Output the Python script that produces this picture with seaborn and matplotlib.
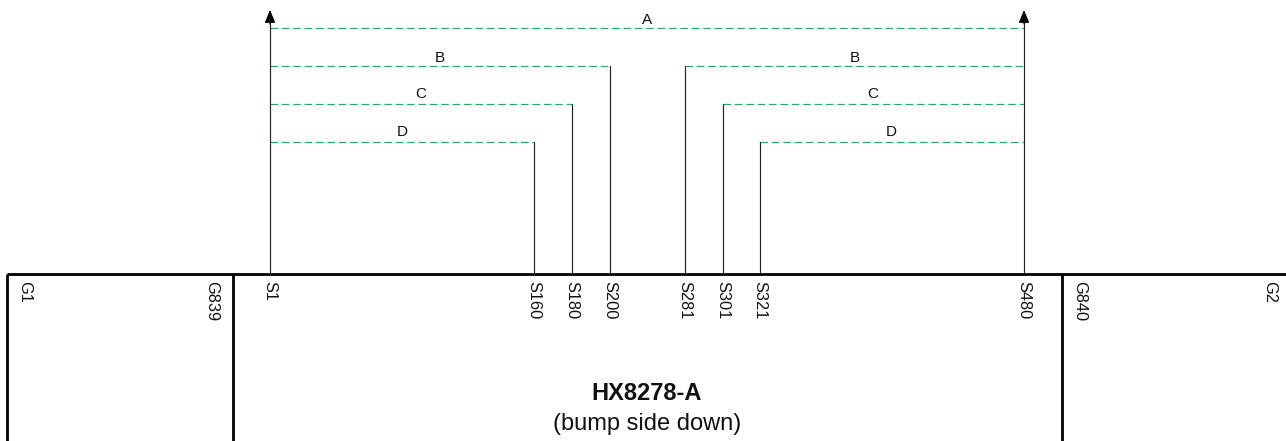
import matplotlib
matplotlib.use('Agg')
import matplotlib.pyplot as plt
import pandas as pd
import seaborn as sns

sns.set_theme(style='white')
plt.rcParams['font.family'] = ['Liberation Sans', 'DejaVu Sans']
plt.rcParams['lines.scale_dashes'] = False

# pin labels and where they sit along the chip edge (pixels of the drawing)
source_pins = ['S1', 'S160', 'S180', 'S200', 'S281', 'S301', 'S321', 'S480']
source_x = [270, 534, 572, 610, 685, 722.5, 760, 1024]
source_top = [22, 142, 104, 66, 66, 104, 142, 22]

gate_pins = ['G1', 'G839', 'G840', 'G2']
gate_x = [25, 212, 1080, 1270]

# green dashed routes
route_names = ['A', 'B', 'C', 'D', 'B', 'C', 'D']
route_start = [270, 270, 270, 270, 685, 722.5, 760]
route_end = [1024, 610, 572, 534, 1024, 1024, 1024]
route_y = [28, 66, 104, 142, 66, 104, 142]
label_x = [647.5, 440, 421, 402, 854.5, 873, 891]
label_y = [20, 58, 94.5, 132.5, 58, 94.5, 132.5]

# chip outline
edge_y = 274
divider_x = [232.5, 1061.5]
outline_left = 6.5

fig, ax = plt.subplots(figsize=(12.86, 4.41), dpi=100)
ax.set_position([0, 0, 1, 1])

routes = pd.DataFrame({
    'x': route_start + route_end,
    'y': route_y + route_y,
    'route': list(range(len(route_y))) * 2,
})
sns.lineplot(data=routes, x='x', y='y', units='route', estimator=None, sort=False,
             color='#25aa68', lw=0.9, dashes=False, ax=ax, legend=False,
             linestyle=(0, (5.4, 2.8)))

wires = pd.DataFrame({
    'x': source_x + source_x,
    'y': source_top + [edge_y] * len(source_x),
    'pin': source_pins + source_pins,
})
sns.lineplot(data=wires, x='x', y='y', units='pin', estimator=None, sort=False,
             color='#222222', lw=0.85, ax=ax, legend=False)

# arrow heads on the two outer wires
for x in [source_x[0], source_x[-1]]:
    ax.annotate('', xy=(x, 10), xytext=(x, 24),
                arrowprops=dict(arrowstyle='-|>,head_length=0.65,head_width=0.27',
                                color='black', lw=0.8, shrinkA=0, shrinkB=0))

# thick chip outline
ax.plot([outline_left, 1286], [edge_y, edge_y], color='black', lw=2.0, solid_capstyle='butt')
for x in [outline_left] + divider_x:
    ax.plot([x, x], [edge_y, 441], color='black', lw=2.0, solid_capstyle='butt')

for name, x, y in zip(route_names, label_x, label_y):
    ax.text(x, y, name, ha='center', va='center', fontsize=11, color='#111111')

for name, x in zip(source_pins + gate_pins, source_x + gate_x):
    ax.text(x, 281, name, rotation=270, ha='center', va='top', fontsize=11.8, color='#111111')

ax.text(647, 393, 'HX8278-A', ha='center', va='center', fontsize=17, fontweight='bold', color='#111111')
ax.text(647, 424, '(bump side down)', ha='center', va='center', fontsize=17, color='#111111')

ax.set_xlim(0, 1286)
ax.set_ylim(441, 0)
ax.axis('off')

fig.savefig('out.png', dpi=100)
